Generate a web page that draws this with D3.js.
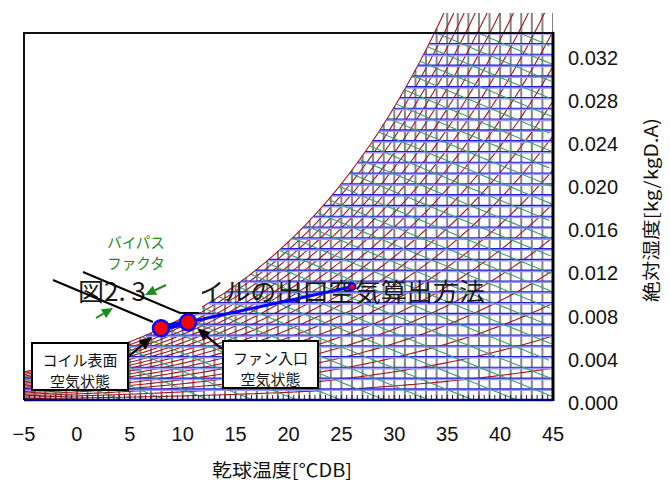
<!DOCTYPE html>
<html>
<head>
<meta charset="utf-8">
<script src="https://cdn.jsdelivr.net/npm/d3@7"></script>
<style>
  body { margin: 0; background: #fff; }
  svg { display: block; }
</style>
</head>
<body>
<svg id="chart" width="670" height="488"></svg>
<script>
// ---- chart data ----
const xTickValues = [-5, 0, 5, 10, 15, 20, 25, 30, 35, 40, 45];
const yTickValues = [0.000, 0.004, 0.008, 0.012, 0.016, 0.020, 0.024, 0.028, 0.032];
const dryBulbLines = d3.range(-5, 45.001, 1);                 // °C
const minorTicks = d3.range(-5, 45.001, 0.5);                 // °C
const humidityLines = d3.range(1, 34.5, 1).map(v => v / 1000); // kg/kg(DA)
const rhLevels = [5, 10, 15, 20, 25, 30, 35, 40, 45, 50, 55, 60, 65, 70, 75, 80, 85, 90, 95, 100]; // %
const enthalpyLevels = d3.range(-1, 33, 1);                   // kcal/kg(DA)

// process: coil surface -> fan inlet -> entering air
const processT = [7.95, 10.5, 26.0];
const processW = [0.00665, 0.0072, 0.0105];

// ---- psychrometric relations (101.325 kPa) ----
const P = 101.325;
const psat = t => 0.61094 * Math.exp(17.625 * t / (t + 243.04));
const wRH = (t, phi) => { const pv = phi * psat(t); return 0.622 * pv / (P - pv); };
const tDew = w => { const pv = w * P / (0.622 + w); const a = Math.log(pv / 0.61094); return 243.04 * a / (17.625 - a); };
const hKJ = (t, w) => 1.006 * t + w * (2501 + 1.86 * t);

const svg = d3.select("#chart");
const x = d3.scaleLinear().domain([-5, 45]).range([24, 553]);
const y = d3.scaleLinear().domain([0, 0.034]).range([400, 33]);
const line = d3.line().x(d => x(d[0])).y(d => y(d[1]));

const defs = svg.append("defs");
defs.append("clipPath").attr("id", "clipTall").append("rect")
  .attr("x", x(-5)).attr("y", 13).attr("width", x(45) - x(-5)).attr("height", y(0) - 13);
defs.append("clipPath").attr("id", "clipPlot").append("rect")
  .attr("x", x(-5)).attr("y", y(0.034)).attr("width", x(45) - x(-5)).attr("height", y(0) - y(0.034));
const satPts = d3.range(-5, 45.001, 0.1).map(t => [t, wRH(t, 1)]);
defs.append("clipPath").attr("id", "clipSat").append("path")
  .attr("d", line([[-5, 0], ...satPts, [45, 0]]) + "Z");

// ---- grid ----
const gTall = svg.append("g").attr("clip-path", "url(#clipTall)");
const gPlot = svg.append("g").attr("clip-path", "url(#clipPlot)");

// dry-bulb lines up to saturation
gTall.append("g").selectAll("line").data(dryBulbLines).join("line")
  .attr("x1", d => x(d)).attr("x2", d => x(d))
  .attr("y1", y(0)).attr("y2", d => y(wRH(d, 1)))
  .attr("stroke", "#858585").attr("stroke-width", 2);

// absolute humidity lines from dew point to the right edge
const gH = gPlot.append("g");
gH.selectAll("line.h1").data(humidityLines).join("line").attr("class", "h1")
  .attr("x1", d => x(Math.max(-5, tDew(d)))).attr("x2", x(45))
  .attr("y1", d => y(d) + 0.8).attr("y2", d => y(d) + 0.8)
  .attr("stroke", "#9898ff").attr("stroke-width", 2);
gH.selectAll("line.h2").data(humidityLines).join("line").attr("class", "h2")
  .attr("x1", d => x(Math.max(-5, tDew(d)))).attr("x2", x(45))
  .attr("y1", d => y(d) - 0.3).attr("y2", d => y(d) - 0.3)
  .attr("stroke", "#2020d8").attr("stroke-width", 1.1);

// enthalpy lines below saturation
const gE = gPlot.append("g").attr("clip-path", "url(#clipSat)");
function satTemp(hk) {
  let lo = -40, hi = 60;
  for (let i = 0; i < 60; i++) {
    const m = (lo + hi) / 2;
    if (hKJ(m, wRH(m, 1)) > hk) hi = m; else lo = m;
  }
  return (lo + hi) / 2;
}
gE.selectAll("path").data(enthalpyLevels).join("path")
  .attr("d", h => {
    const hk = h * 4.186;
    const t0 = satTemp(hk);
    const pts = [];
    for (let t = t0; t <= 45.05; t += 0.5) {
      const w = (hk - 1.006 * t) / (2501 + 1.86 * t);
      pts.push([t, w]);
      if (w < 0) break;
    }
    return line(pts);
  })
  .attr("fill", "none").attr("stroke", "#3c9e68").attr("stroke-width", 1.1);

// relative humidity curves
gTall.append("g").selectAll("path").data(rhLevels).join("path")
  .attr("d", r => line(d3.range(-5, 45.001, 0.25).map(t => [t, wRH(t, r / 100)])))
  .attr("fill", "none").attr("stroke", "#a3161c").attr("stroke-width", 1.1);

// minor ticks along the bottom
svg.append("g").selectAll("line").data(minorTicks).join("line")
  .attr("x1", d => x(d)).attr("x2", d => x(d))
  .attr("y1", y(0)).attr("y2", y(0) - 5)
  .attr("stroke", "#222").attr("stroke-width", 1);

// ---- frame ----
svg.append("line").attr("x1", x(-5)).attr("x2", x(45)).attr("y1", y(0.034)).attr("y2", y(0.034))
  .attr("stroke", "#111").attr("stroke-width", 2);
svg.append("line").attr("x1", x(-5)).attr("x2", x(-5)).attr("y1", y(0.034) - 1).attr("y2", y(0))
  .attr("stroke", "#111").attr("stroke-width", 2);
svg.append("line").attr("x1", x(45)).attr("x2", x(45)).attr("y1", y(0.034) - 1).attr("y2", y(0) + 1)
  .attr("stroke", "#000").attr("stroke-width", 3);
svg.append("line").attr("x1", x(-5)).attr("x2", x(45)).attr("y1", y(0)).attr("y2", y(0))
  .attr("stroke", "#000080").attr("stroke-width", 2.5);

// ---- title inside plot ----
svg.append("text")
  .attr("x", 78).attr("y", 301)
  .attr("font-family", "'Noto Sans CJK JP', sans-serif").attr("font-size", 25)
  .attr("fill", "#1a1a1a")
  .attr("textLength", 407).attr("lengthAdjust", "spacingAndGlyphs")
  .text("図2. 3　コイルの出口空気算出方法");
svg.append("rect").attr("x", 172).attr("y", 280).attr("width", 30).attr("height", 32).attr("fill", "#fff");

// ---- bypass-factor construction lines ----
const bfLine1 = [[-2.26, 0.01112], [7.19, 0.00723]];
const bfLine2 = [[0.58, 0.01186], [9.75, 0.00806], [11.55, 0.00806]];
svg.append("path").attr("d", line(bfLine1)).attr("fill", "none").attr("stroke", "#000").attr("stroke-width", 2);
svg.append("path").attr("d", line(bfLine2)).attr("fill", "none").attr("stroke", "#000").attr("stroke-width", 2);

// ---- process line and state points ----
const proc = processT.map((t, i) => [t, processW[i]]);
svg.append("path").attr("d", line(proc.slice(1))).attr("fill", "none")
  .attr("stroke", "#0000ff").attr("stroke-width", 3);
svg.append("path").attr("d", line(proc.slice(0, 2))).attr("fill", "none")
  .attr("stroke", "#0000ff").attr("stroke-width", 6);
svg.append("g").selectAll("circle").data(proc).join("circle")
  .attr("cx", d => x(d[0])).attr("cy", d => y(d[1]))
  .attr("r", (d, i) => i < 2 ? 8 : 3.5)
  .attr("fill", "#ff0000").attr("stroke", "#0000ff")
  .attr("stroke-width", (d, i) => i < 2 ? 2.5 : 2);

// ---- arrows ----
function arrow(x1, y1, x2, y2, color, lw, hl, hw) {
  const a = Math.atan2(y2 - y1, x2 - x1);
  const bx = x2 - hl * Math.cos(a), by = y2 - hl * Math.sin(a);
  svg.append("line").attr("x1", x1).attr("y1", y1).attr("x2", bx).attr("y2", by)
    .attr("stroke", color).attr("stroke-width", lw);
  const px = -Math.sin(a) * hw / 2, py = Math.cos(a) * hw / 2;
  svg.append("path")
    .attr("d", `M${x2},${y2}L${bx + px},${by + py}L${bx - px},${by - py}Z`)
    .attr("fill", color);
}
arrow(128, 357, 152, 337, "#000", 2, 13, 11);
arrow(222, 349, 197, 328, "#000", 2, 13, 11);
arrow(166, 285, 145, 295, "#1a8c1a", 2, 11, 10);
arrow(96, 318, 113, 308, "#1a8c1a", 2, 11, 10);

// ---- callout boxes ----
const jp = "'Noto Sans CJK JP', sans-serif";
function callout(x0, y0, w, h, lines) {
  svg.append("rect").attr("x", x0).attr("y", y0).attr("width", w).attr("height", h)
    .attr("fill", "#fff").attr("stroke", "#000").attr("stroke-width", 2);
  lines.forEach((s, i) => {
    svg.append("text").attr("x", x0 + w / 2).attr("y", y0 + 16 + i * 21)
      .attr("text-anchor", "middle").attr("dominant-baseline", "central")
      .attr("font-family", jp).attr("font-size", 15).attr("fill", "#111").text(s);
  });
}
callout(32, 343, 96, 47, ["コイル表面", "空気状態"]);
callout(223, 341, 95, 47, ["ファン入口", "空気状態"]);

// bypass factor label
["バイパス", "ファクタ"].forEach((s, i) => {
  svg.append("text").attr("x", 136).attr("y", 241 + i * 21)
    .attr("text-anchor", "middle").attr("dominant-baseline", "central")
    .attr("font-family", jp).attr("font-size", 14.5).attr("fill", "#1a8c1a").text(s);
});

// ---- axes labels ----
const num = "'Liberation Sans', Arial, sans-serif";
svg.append("g").selectAll("text").data(xTickValues).join("text")
  .attr("x", d => x(d)).attr("y", 434)
  .attr("text-anchor", "middle").attr("dominant-baseline", "central")
  .attr("font-family", num).attr("font-size", 20).attr("fill", "#111")
  .text(d => d < 0 ? "\u2212" + Math.abs(d) : d);
svg.append("g").selectAll("text").data(yTickValues).join("text")
  .attr("x", 568).attr("y", d => y(d) + 3)
  .attr("dominant-baseline", "central")
  .attr("font-family", num).attr("font-size", 20).attr("fill", "#111")
  .text(d => d.toFixed(3));

svg.append("text").attr("x", 282).attr("y", 469)
  .attr("text-anchor", "middle").attr("dominant-baseline", "central")
  .attr("font-family", jp).attr("font-size", 18).attr("fill", "#111")
  .attr("textLength", 140).attr("lengthAdjust", "spacingAndGlyphs")
  .text("乾球温度[℃DB]");
svg.append("text").attr("transform", "translate(650,210) rotate(-90)")
  .attr("text-anchor", "middle").attr("dominant-baseline", "central")
  .attr("font-family", jp).attr("font-size", 18).attr("fill", "#111")
  .attr("textLength", 184).attr("lengthAdjust", "spacingAndGlyphs")
  .text("絶対湿度[kg/kgD.A)");
</script>
</body>
</html>
